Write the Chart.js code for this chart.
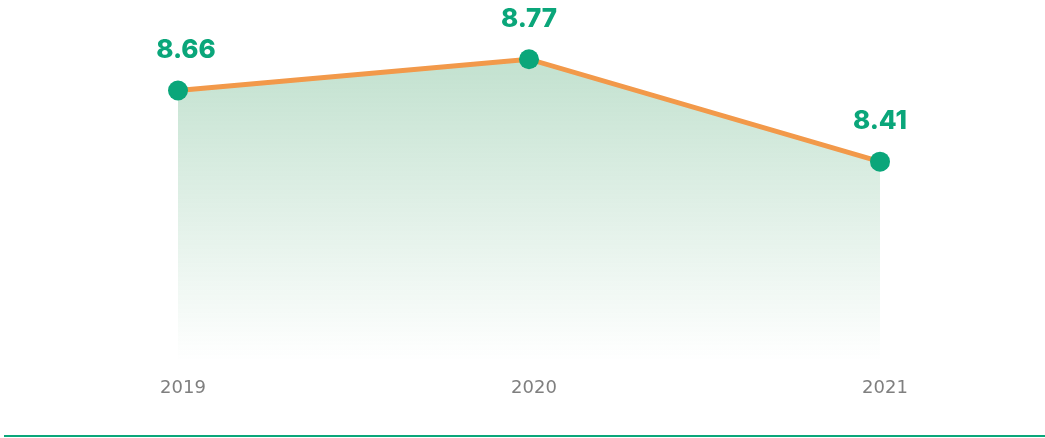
<!DOCTYPE html>
<html><head><meta charset="utf-8">
<script src="https://cdn.jsdelivr.net/npm/chart.js"></script>
<style>html,body{margin:0;padding:0;background:#fff;overflow:hidden}</style>
</head><body>
<canvas id="c" width="1045" height="438"></canvas>
<script>
const categories = ['2019', '2020', '2021'];
const values = [8.66, 8.77, 8.41];
const labelsText = ['8.66', '8.77', '8.41'];

const green = '#0aa67a';
const orange = '#f2994a';

const valueLabels = {
  id: 'valueLabels',
  afterDatasetsDraw(chart) {
    const ctx = chart.ctx;
    const meta = chart.getDatasetMeta(0);
    ctx.save();
    ctx.fillStyle = green;
    ctx.font = '800 26px Inter, "DejaVu Sans", sans-serif';
    ctx.textAlign = 'center';
    ctx.textBaseline = 'middle';
    meta.data.forEach((pt, i) => {
      ctx.fillText(labelsText[i], pt.x + (i === 0 ? 8 : 0), pt.y - 40);
    });
    ctx.restore();
  },
  afterDraw(chart) {
    const ctx = chart.ctx;
    ctx.save();
    ctx.fillStyle = green;
    ctx.fillRect(4, 435, 1041, 2);
    ctx.restore();
  }
};

const ctx = document.getElementById('c').getContext('2d');
new Chart(ctx, {
  type: 'line',
  data: {
    labels: categories,
    datasets: [{
      data: values,
      borderColor: orange,
      borderWidth: 5,
      pointRadius: 10,
      pointHoverRadius: 10,
      pointBackgroundColor: green,
      pointBorderColor: green,
      pointBorderWidth: 0,
      tension: 0,
      fill: 'start',
      backgroundColor(context) {
        const c = context.chart;
        const area = c.chartArea;
        if (!area) return 'rgba(0,0,0,0)';
        const g = c.ctx.createLinearGradient(0, area.top + 49, 0, area.bottom);
        g.addColorStop(0, 'rgba(20,140,70,0.26)');
        g.addColorStop(1, 'rgba(20,140,70,0)');
        return g;
      }
    }]
  },
  options: {
    responsive: false,
    animation: false,
    layout: { padding: { left: 178, right: 165, top: 10, bottom: 31 } },
    plugins: { legend: { display: false }, tooltip: { enabled: false } },
    scales: {
      x: {
        offset: false,
        grid: { display: false },
        border: { display: false },
        ticks: { color: '#7f7f7f', font: { size: 18, family: '"DejaVu Sans", sans-serif' }, padding: 8, labelOffset: 5 }
      },
      y: {
        display: false,
        min: 7.708,
        max: 8.943
      }
    }
  },
  plugins: [valueLabels]
});
</script>
</body></html>
